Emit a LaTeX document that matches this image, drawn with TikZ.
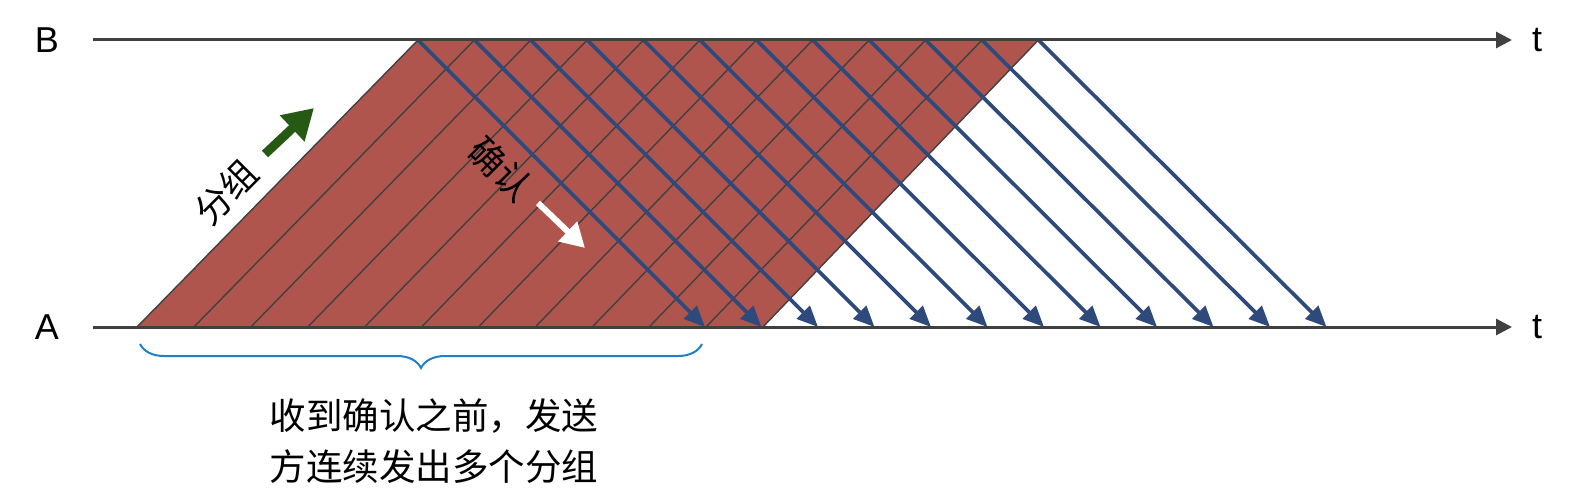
\documentclass[tikz,border=0pt]{standalone}
\usepackage{fontspec}
\setmainfont{Liberation Sans}
\newfontfamily\cjk{Noto Sans CJK SC}
\usetikzlibrary{arrows.meta,decorations.pathreplacing}
\definecolor{winred}{RGB}{176,85,78}
\definecolor{axisgray}{RGB}{64,64,64}
\definecolor{acknavy}{RGB}{46,74,125}
\definecolor{arrgreen}{RGB}{38,90,20}
\definecolor{braceblue}{RGB}{31,127,200}
\tikzset{
  axisline/.style={draw=axisgray,line width=3pt,-{Triangle[length=16pt,width=16pt]}},
  pktline/.style={draw=axisgray,line width=1.4pt},
  ackline/.style={draw=acknavy,line width=3.7pt,-{Triangle[length=21pt,width=18pt]}},
  lbl/.style={font=\fontsize{36}{40}\selectfont,inner sep=0pt},
  cjklbl/.style={font=\fontsize{36}{51}\selectfont\cjk,inner sep=0pt},
  notelbl/.style={font=\fontsize{36.5}{51}\selectfont\cjk,inner sep=0pt},
}
\begin{document}
\begin{tikzpicture}[x=1pt,y=-1pt]
\useasboundingbox (0,0) rectangle (1576,500);
% red window region
\fill[winred] (137,327) -- (418,40) -- (1038,40) -- (763,327) -- cycle;
% coordinates
\foreach \i in {0,...,11}{
  \coordinate (ps\i) at ({137+56.9*\i},327);
  \coordinate (pe\i) at ({418+56.4*\i},40);
  \coordinate (ae\i) at ({705+56.5*\i},327);
}
% packet lines
\foreach \i in {0,...,11}{
  \draw[pktline] (ps\i) -- (pe\i);
}
% ack lines
\foreach \i in {0,...,11}{
  \draw[ackline] (pe\i) -- (ae\i);
}
% axes
\coordinate (Bs) at (93,40);
\coordinate (Be) at (1512,40);
\coordinate (As) at (93,327);
\coordinate (Ae) at (1512,327);
\draw[axisline] (Bs) -- (Be);
\draw[axisline] (As) -- (Ae);
\node[lbl] (B) at (47,40) {B};
\node[lbl] (A) at (47,327) {A};
\node[lbl] (tB) at (1537,40) {t};
\node[lbl] (tA) at (1537,327) {t};
% packet label and arrow
\node[cjklbl,rotate=45] (fz) at (226,192) {分组};
\coordinate (g1) at (265,154);
\coordinate (g2) at (314,108);
\draw[arrgreen,line width=9pt,-{Triangle[length=30pt,width=34pt]}] (g1) -- (g2);
% ack label and arrow
\node[cjklbl,rotate=-45] (qr) at (501,169) {确认};
\coordinate (w1) at (538,203);
\coordinate (w2) at (585,248);
\draw[white,line width=6pt,-{Triangle[length=24pt,width=26pt]}] (w1) -- (w2);
% brace
\coordinate (br1) at (140,344);
\coordinate (br2) at (702,344);
\draw[braceblue,line width=2pt,decorate,decoration={brace,mirror,amplitude=24pt}] (br1) -- (br2);
\node[notelbl,align=center] (note) at (434,441) {收到确认之前，发送\\方连续发出多个分组};
\end{tikzpicture}
\end{document}
